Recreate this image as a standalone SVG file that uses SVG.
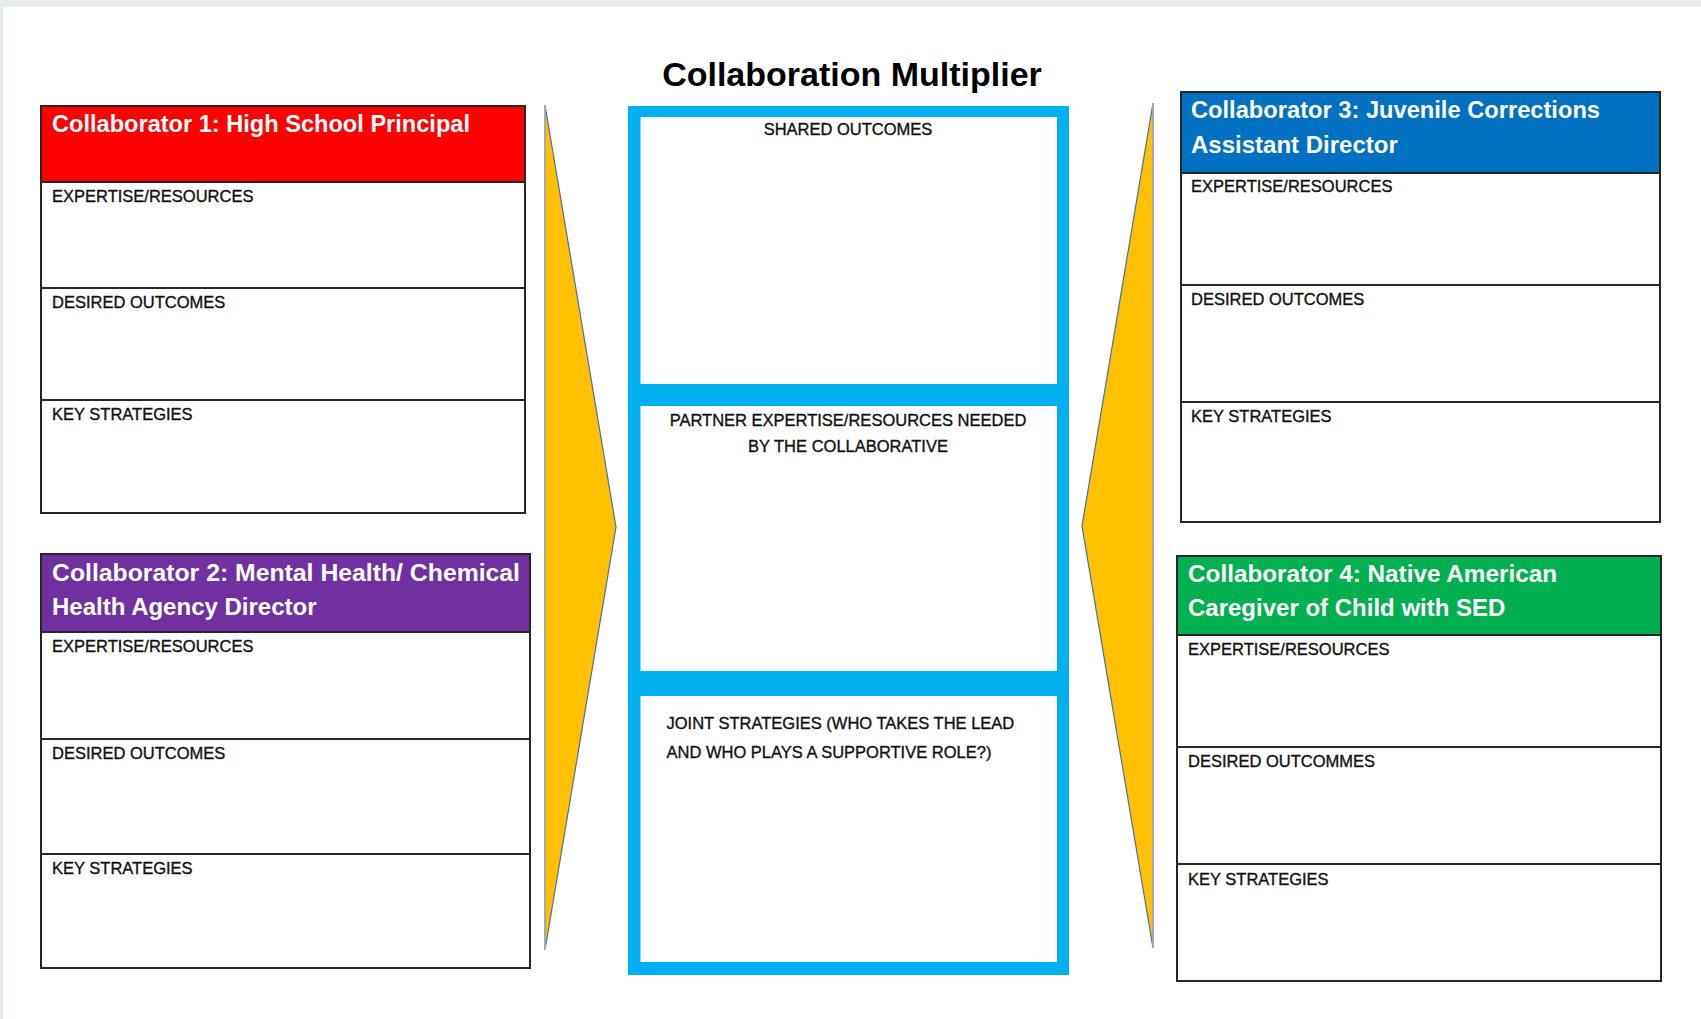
<svg xmlns="http://www.w3.org/2000/svg" width="1701" height="1019" viewBox="0 0 1701 1019">
  <style>
    .title { font-family: "Liberation Sans", Arial, sans-serif; font-weight: bold; font-size: 34px; fill: #000; }
    .head { font-family: "Liberation Sans", Arial, sans-serif; font-weight: bold; font-size: 24px; fill: #fff; }
    .lbl { font-family: "Liberation Sans", Arial, sans-serif; font-size: 16.5px; fill: #111; stroke: #111; stroke-width: 0.35; }
    .frame { fill: none; stroke: #262626; stroke-width: 2; }
    .rule { stroke: #262626; stroke-width: 2; }
    .panel { fill: #fff; }
    .chev { fill: #FFC000; stroke: #4a6fa5; stroke-width: 1.2; stroke-linejoin: miter; }
    .back { stroke: #a8a8a8; stroke-width: 2; }
  </style>

  <!-- page -->
  <rect x="0" y="0" width="1701" height="1019" fill="#e5eaea"/>
  <rect x="3" y="7" width="1698" height="1012" fill="#fff"/>

  <text class="title" x="852" y="86" text-anchor="middle">Collaboration Multiplier</text>

  <!-- yellow chevrons pointing into the shared frame -->
  <g id="connectors">
    <polygon class="chev" points="545,105 616,527 545,950"/>
    <line class="back" x1="545" y1="105" x2="545" y2="950"/>
    <polygon class="chev" points="1153,103 1082,526 1153,948"/>
    <line class="back" x1="1153" y1="103" x2="1153" y2="948" stroke="#b8c4d4"/>
  </g>

  <!-- shared collaborative frame -->
  <g id="shared">
    <rect x="628" y="106" width="441" height="869" fill="#00B0F0"/>
    <rect class="panel" x="640.5" y="117" width="416.5" height="267"/>
    <rect class="panel" x="640.5" y="406" width="416.5" height="265"/>
    <rect class="panel" x="640.5" y="696" width="416.5" height="266"/>
    <text class="lbl" x="848" y="135" text-anchor="middle">SHARED OUTCOMES</text>
    <text class="lbl" x="848" y="426" text-anchor="middle">PARTNER EXPERTISE/RESOURCES NEEDED</text>
    <text class="lbl" x="848" y="452" text-anchor="middle">BY THE COLLABORATIVE</text>
    <text class="lbl" x="666.5" y="729">JOINT STRATEGIES (WHO TAKES THE LEAD</text>
    <text class="lbl" x="666.5" y="758">AND WHO PLAYS A SUPPORTIVE ROLE?)</text>
  </g>

  <!-- collaborator 1 -->
  <g id="collaborator1">
    <rect x="41" y="106" width="484" height="76" fill="#FF0000"/>
    <rect class="frame" x="41" y="106" width="484" height="407"/>
    <line class="rule" x1="41" y1="182" x2="525" y2="182"/>
    <line class="rule" x1="41" y1="288" x2="525" y2="288"/>
    <line class="rule" x1="41" y1="400" x2="525" y2="400"/>
    <text class="head" x="52" y="132" textLength="418" lengthAdjust="spacingAndGlyphs">Collaborator 1: High School Principal</text>
    <text class="lbl" x="52" y="202">EXPERTISE/RESOURCES</text>
    <text class="lbl" x="52" y="308">DESIRED OUTCOMES</text>
    <text class="lbl" x="52" y="420">KEY STRATEGIES</text>
  </g>

  <!-- collaborator 2 -->
  <g id="collaborator2">
    <rect x="41" y="554" width="489" height="78" fill="#7030A0"/>
    <rect class="frame" x="41" y="554" width="489" height="414"/>
    <line class="rule" x1="41" y1="632" x2="530" y2="632"/>
    <line class="rule" x1="41" y1="739" x2="530" y2="739"/>
    <line class="rule" x1="41" y1="854" x2="530" y2="854"/>
    <text class="head" x="52" y="581" textLength="468" lengthAdjust="spacingAndGlyphs">Collaborator 2: Mental Health/ Chemical</text>
    <text class="head" x="52" y="615">Health Agency Director</text>
    <text class="lbl" x="52" y="652">EXPERTISE/RESOURCES</text>
    <text class="lbl" x="52" y="759">DESIRED OUTCOMES</text>
    <text class="lbl" x="52" y="874">KEY STRATEGIES</text>
  </g>

  <!-- collaborator 3 -->
  <g id="collaborator3">
    <rect x="1181" y="92" width="479" height="81" fill="#0070C0"/>
    <rect class="frame" x="1181" y="92" width="479" height="430"/>
    <line class="rule" x1="1181" y1="173" x2="1660" y2="173"/>
    <line class="rule" x1="1181" y1="285" x2="1660" y2="285"/>
    <line class="rule" x1="1181" y1="402" x2="1660" y2="402"/>
    <text class="head" x="1191" y="118" textLength="409" lengthAdjust="spacingAndGlyphs">Collaborator 3: Juvenile Corrections</text>
    <text class="head" x="1191" y="153">Assistant Director</text>
    <text class="lbl" x="1191" y="192">EXPERTISE/RESOURCES</text>
    <text class="lbl" x="1191" y="305">DESIRED OUTCOMES</text>
    <text class="lbl" x="1191" y="422">KEY STRATEGIES</text>
  </g>

  <!-- collaborator 4 -->
  <g id="collaborator4">
    <rect x="1177" y="556" width="484" height="79" fill="#00B050"/>
    <rect class="frame" x="1177" y="556" width="484" height="425"/>
    <line class="rule" x1="1177" y1="635" x2="1661" y2="635"/>
    <line class="rule" x1="1177" y1="747" x2="1661" y2="747"/>
    <line class="rule" x1="1177" y1="864" x2="1661" y2="864"/>
    <text class="head" x="1188" y="582" textLength="369" lengthAdjust="spacingAndGlyphs">Collaborator 4: Native American</text>
    <text class="head" x="1188" y="616">Caregiver of Child with SED</text>
    <text class="lbl" x="1188" y="655">EXPERTISE/RESOURCES</text>
    <text class="lbl" x="1188" y="767">DESIRED OUTCOMMES</text>
    <text class="lbl" x="1188" y="885">KEY STRATEGIES</text>
  </g>
</svg>
